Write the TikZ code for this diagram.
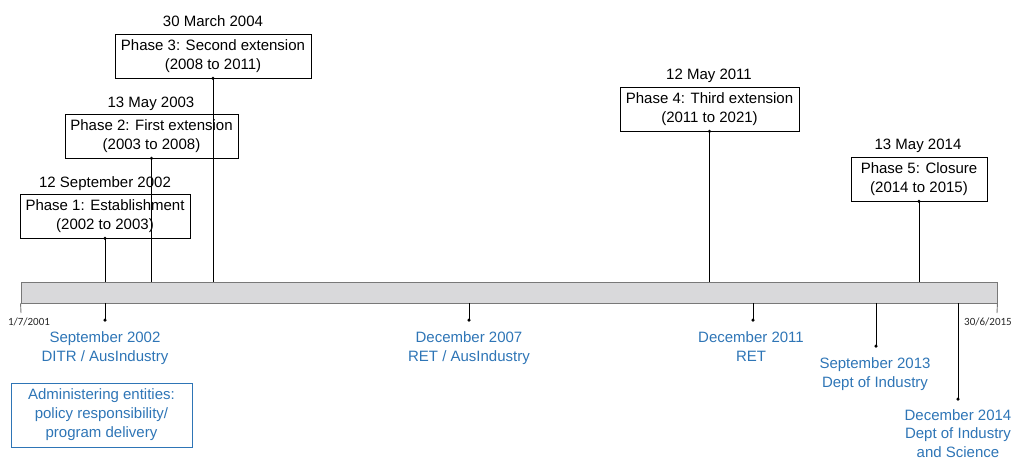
\documentclass[tikz,border=0pt]{standalone}
\usepackage{fontspec}
\setmainfont{Liberation Sans}
\newfontfamily\smallfont{Carlito}
\definecolor{entblue}{RGB}{46,117,182}
\definecolor{barfill}{RGB}{217,217,219}
\definecolor{bargray}{RGB}{120,120,120}
\begin{document}
\begin{tikzpicture}[x=1pt,y=-1pt,
  phasebox/.style={draw=black, line width=0.9pt, align=center, inner sep=0pt,
    font=\fontsize{15}{19}\selectfont},
  datelbl/.style={anchor=base, inner sep=0pt, font=\fontsize{15}{17}\selectfont},
  entlbl/.style={anchor=north, inner sep=0pt, align=center, text=entblue,
    font=\fontsize{15}{19}\selectfont},
  conn/.style={draw=black, line width=1pt},
  dotend/.style={fill=black, circle, inner sep=0pt, minimum size=3.5pt},
  edgelbl/.style={inner sep=0pt, text=black!85, font=\smallfont\fontsize{11}{12}\selectfont}]
\useasboundingbox (0,0) rectangle (1013,459);

% timeline bar
\node[draw=bargray, fill=barfill, line width=0.9pt, minimum width=976pt, minimum height=21pt,
  inner sep=0pt] (bar) at (509,292.5) {};
\coordinate (lt) at (21,313);
\coordinate (rt) at (997,313);
\draw[bargray, line width=0.9pt] (bar.south west) -- (lt);
\draw[bargray, line width=0.9pt] (bar.south east) -- (rt);
\node[edgelbl] (start) at (29,322) {1/7/2001};
\node[edgelbl] (end) at (988,322) {30/6/2015};

% phase boxes
\node[phasebox, minimum width=170pt, minimum height=44pt] (p1) at (105,216) {Phase 1: Establishment\\(2002 to 2003)};
\node[phasebox, minimum width=173pt, minimum height=44pt] (p2) at (151.5,136) {Phase 2: First extension\\(2003 to 2008)};
\node[phasebox, minimum width=196pt, minimum height=44pt] (p3) at (213,56) {Phase 3: Second extension\\(2008 to 2011)};
\node[phasebox, minimum width=179pt, minimum height=44pt] (p4) at (709.5,109) {Phase 4: Third extension\\(2011 to 2021)};
\node[phasebox, minimum width=136pt, minimum height=44pt] (p5) at (919,179) {Phase 5: Closure\\(2014 to 2015)};

\node[datelbl] (d1) at (105,187) {12 September 2002};
\node[datelbl] (d2) at (151,107) {13 May 2003};
\node[datelbl] (d3) at (213,26) {30 March 2004};
\node[datelbl] (d4) at (709,79) {12 May 2011};
\node[datelbl] (d5) at (918,149) {13 May 2014};

% connectors from phases to bar
\foreach \p in {p1,p2,p3,p4,p5}{
  \draw[conn] (\p.south) -- (\p.south |- bar.north);
  \node[dotend] at (\p.south) {};
}

% administering entities
\coordinate (e1) at (105,320);
\coordinate (e2) at (469,320);
\coordinate (e3) at (753,320);
\coordinate (e4) at (876,346);
\coordinate (e5) at (958,399);
\foreach \e in {e1,e2,e3,e4,e5}{
  \draw[conn] (\e |- bar.south) -- (\e);
  \node[dotend] at (\e) {};
}
\node[entlbl] (t1) at (105,331) {September 2002\\DITR / AusIndustry};
\node[entlbl] (t2) at (469,331) {December 2007\\RET / AusIndustry};
\node[entlbl] (t3) at (751,331) {December 2011\\RET};
\node[entlbl] (t4) at (875,357) {September 2013\\Dept of Industry};
\node[entlbl, font=\fontsize{15}{18.5}\selectfont] (t5) at (958,409) {December 2014\\Dept of Industry\\and Science};

% legend box
\node[draw=entblue, line width=1pt, minimum width=181pt, minimum height=64pt, inner sep=0pt,
  align=center, text=entblue, font=\fontsize{15}{19}\selectfont] (legend) at (101.5,415)
  {Administering entities:\\policy responsibility/\\program delivery};
\end{tikzpicture}
\end{document}
